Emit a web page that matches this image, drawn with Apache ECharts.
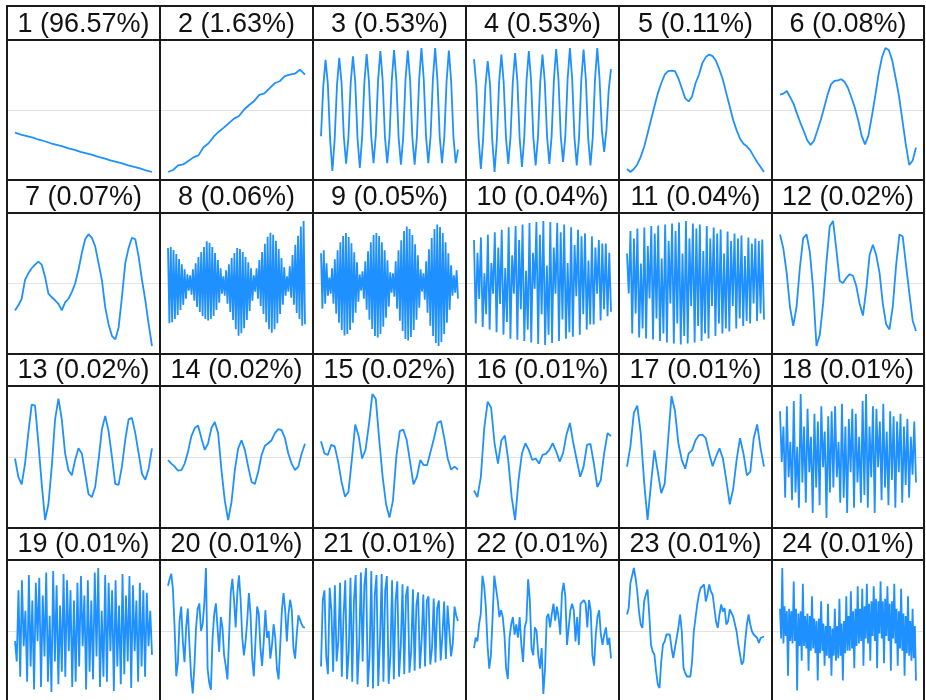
<!DOCTYPE html>
<html>
<head>
<meta charset="utf-8">
<script src="https://cdn.jsdelivr.net/npm/echarts@6/dist/echarts.min.js"></script>
<style>
  html, body { margin: 0; padding: 0; background: #fff; }
  #chart { width: 926px; height: 700px; }
</style>
</head>
<body>
<div id="chart"></div>
<script>
// Share of each eigenvector (% of total)
const shares = [96.57, 1.63, 0.53, 0.53, 0.11, 0.08, 0.07, 0.06, 0.05, 0.04, 0.04, 0.02,
                0.02, 0.02, 0.02, 0.01, 0.01, 0.01, 0.01, 0.01, 0.01, 0.01, 0.01, 0.01];

// Eigenvector values (x 1000)
const comp1 = [-45,-49,-52,-55,-59,-62,-66,-69,-72,-76,-79,-83,-86,-89,-93,-96,-100,-103,-106,-110,-113,-116,-120,-123];
const comp2 = [-123,-119,-110,-108,-101,-94,-90,-74,-66,-53,-43,-35,-26,-17,-12,1,10,18,30,33,43,53,57,67,70,72,80,70];
const comp3 = [-53,48,101,52,-60,-123,-58,50,105,55,-54,-108,-56,54,108,56,-58,-117,-56,56,113,58,-54,-107,-52,60,119,60,-54,-107,
               -55,60,121,60,-56,-110,-55,60,120,62,-55,-110,-54,62,125,62,-54,-107,-53,62,125,60,-54,-107,-55,58,120,58,-54,-107,-80];
const comp4 = [101,50,-55,-117,-58,48,97,52,-60,-123,-60,55,110,55,-55,-107,-53,56,113,57,-56,-113,-56,58,117,58,-55,-110,-55,55,
               110,56,-53,-107,-52,60,121,60,-52,-103,-52,61,123,61,-55,-110,-55,60,120,60,-55,-110,-55,61,123,61,-40,-83,-40,40,81];
const comp5 = [-117,-123,-117,-108,-93,-73,-47,-20,7,33,53,70,77,78,77,63,43,23,17,27,53,70,93,105,110,107,97,80,60,33,
               7,-20,-40,-57,-67,-72,-80,-92,-103,-113,-123];
const comp6 = [30,32,37,25,12,-7,-25,-41,-59,-68,-60,-40,-19,5,30,50,57,58,60,55,43,25,5,-20,-50,-67,-50,-13,27,70,
               103,121,117,97,63,27,-20,-67,-107,-99,-73];
const comp7 = [-53,-43,-30,7,20,30,37,43,37,13,-20,-27,-33,-40,-53,-37,-30,-17,0,27,60,87,97,90,73,40,7,-47,-80,-103,
               -110,-87,-27,40,70,90,87,53,7,-33,-80,-123];
const comp8 = [70,-78,72,-76,66,-70,58,-62,48,-52,38,-42,28,-30,18,-14,16,-22,28,-34,
               40,-46,52,-56,62,-64,72,-70,83,-73,80,-70,72,-64,60,-52,46,-38,30,-20,
               14,-24,26,-40,38,-56,50,-72,60,-90,70,-103,68,-98,62,-88,52,-72,42,-54,
               30,-34,16,-16,30,-30,46,-44,62,-60,78,-76,92,-90,100,-97,96,-90,84,-78,
               68,-60,50,-42,32,-24,14,-16,34,-28,56,-42,76,-58,94,-70,112,-83,123,-80];
const comp9 = [60,-50,66,-40,40,-24,12,-20,30,-40,48,-60,66,-78,82,-92,94,-103,100,-100,
               92,-92,80,-78,62,-58,42,-36,18,-14,24,-30,44,-52,64,-72,82,-90,96,-104,
               100,-107,94,-100,82,-86,66,-68,46,-46,22,-18,20,-26,44,-50,66,-74,86,-94,
               104,-110,113,-113,108,-106,96,-92,78,-72,56,-48,28,-16,20,-32,44,-58,68,-84,
               90,-104,108,-118,117,-124,112,-116,100,-100,82,-78,60,-52,36,-24,16,-18,26,-30];
const comp10 = [85,-78,60,-30,90,-85,20,-60,95,-90,40,-20,100,-95,70,-40,105,-100,30,-75,
                110,-108,55,-20,112,-110,85,-50,115,-112,25,-90,118,-115,60,-10,120,-118,95,-60,
                122,-120,35,-100,120,-116,70,-20,118,-112,100,-70,115,-108,40,-95,110,-104,75,-25,
                105,-100,92,-60,98,-90,45,-80,92,-80,70,-20,85,-72,78,-50,78,-64,60,-55];
const comp11 = [60,-20,105,-100,90,-60,110,-108,40,-90,112,-110,75,-30,115,-112,100,-70,116,-115,
                50,-100,118,-118,85,-40,120,-120,105,-80,122,-122,60,-105,125,-120,90,-45,120,-118,
                110,-85,118,-115,65,-100,115,-110,90,-45,112,-105,100,-80,108,-100,60,-90,104,-96,
                85,-45,100,-90,90,-70,96,-85,55,-75,92,-80,80,-40,90,-75,85,-60,88,-72];
const comp12 = [95,68,21,-45,-82,-45,31,88,95,61,-12,-121,-99,-39,41,111,121,65,5,1,
                11,18,15,-5,-39,-62,-12,55,75,55,21,-39,-79,-89,-45,35,95,91,35,-19,-72,-92];
const comp13 = [-3,-39,-54,-13,48,103,101,27,-53,-124,-93,-19,74,115,74,7,-26,-36,-6,17,
                7,-33,-73,-79,-59,-6,54,81,51,1,-53,-55,-19,34,74,77,47,7,-33,-45,-23,17];
const comp14 = [-6,-13,-19,-27,-26,-13,11,41,57,62,37,14,27,57,69,47,-26,-86,-124,-89,
                -26,17,33,14,-19,-49,-53,-29,4,22,27,33,47,55,53,37,7,-13,-26,-19,7,26];
const comp15 = [31,7,4,24,21,-9,-49,-78,-69,-6,64,41,-3,14,64,124,114,34,-39,-93,
                -119,-86,1,51,54,34,-9,-54,-39,-6,-16,-16,11,37,67,71,37,-3,-25,-19,-25];
const comp16 = [-66,-79,-39,57,109,97,27,-13,33,42,-6,-79,-124,-46,7,27,14,-6,-3,-13,
                4,6,14,27,11,-9,7,44,67,27,-6,-39,-19,24,26,-13,-59,-46,7,47,41];
const comp17 = [-19,21,87,101,47,-49,-124,-53,13,-29,-71,-53,34,120,91,27,-6,-23,7,13,
                33,43,44,37,7,-18,1,17,-3,-46,-93,-63,-6,37,7,-36,-29,37,64,17,-19];
const comp18 = [90,-10,60,-80,100,-40,30,-85,110,-70,20,-100,124,-50,60,-90,95,-30,40,-110,
                85,-60,70,-95,100,-20,50,-120,80,-70,90,-60,100,-40,30,-90,105,-80,60,-110,
                75,-30,95,-100,85,-50,40,-90,110,-75,124,-100,60,-40,100,-110,95,-20,70,-85,
                105,-60,50,-95,90,-45,80,-100,70,-30,85,-90,60,-55,75,-80,40,-35,70,-50];
const comp19 = [-20,-60,80,-90,100,-30,40,-100,110,-70,60,-115,95,-20,105,-110,70,-50,115,-100,
                30,-120,118,-60,90,-105,50,-80,112,-90,100,-40,80,-110,60,-100,95,-70,108,-30,
                70,-115,100,-80,60,-95,115,-50,124,-110,40,-90,110,-100,95,-40,80,-118,100,-70,
                50,-105,112,-85,70,-60,108,-112,90,-40,60,-100,95,-70,80,-90,75,-30,40,-47];
const comp20 = [87,100,110,80,7,-87,-60,20,47,-20,-60,7,43,-27,-87,-120,-67,7,43,53,
                0,13,53,121,-73,-100,-113,-13,33,53,7,-40,27,7,-47,-67,-93,-13,73,100,
                60,7,73,107,60,-13,-47,-20,20,73,33,-53,-87,-20,47,33,-33,-67,-20,40,
                -13,0,-53,-27,13,-13,-73,-93,-27,40,73,40,-20,33,60,40,-33,-53,-7,30,27,13,7,7];
const comp21 = [-70,60,80,-50,-85,85,40,-80,90,-60,-20,95,-90,30,100,-95,-40,105,-100,60,
                110,-105,-30,115,-60,90,124,-110,-50,118,-113,70,110,-108,-20,112,-100,80,108,-104,
                -50,100,-95,60,98,-90,-30,92,-85,70,88,-82,-40,82,-78,50,76,-74,-20,72,
                -70,60,68,-66,-35,64,-62,45,60,-58,-10,58,-55,50,52,-50,-25,48,30,20];
const comp22 = [-33,-13,-20,13,33,107,87,47,-27,-73,-47,27,107,107,60,27,40,27,-7,-73,
                -93,-13,13,27,-7,13,-13,27,-27,-60,7,20,100,60,-33,-47,7,0,-47,-73,
                -33,-122,-73,27,33,7,33,53,20,47,27,-7,73,93,67,-27,7,40,53,40,
                -20,27,-27,53,53,60,53,7,60,40,-47,-67,-7,27,40,-7,-27,-7,7,-27,-13,-53];
const comp23 = [33,46,96,99,126,106,79,39,13,6,59,73,83,33,-27,-41,-47,-81,-107,-114,
                -61,-27,-21,-7,-7,-7,-34,-54,-34,-14,6,33,-1,-74,-84,-91,-93,-91,-61,-1,
                26,53,73,86,83,93,59,73,93,79,73,46,19,6,33,53,39,46,13,19,
                43,36,29,26,-1,-27,-47,-67,-61,-21,13,33,13,-1,-7,-7,-14,-24,-14,-11,-11];
const comp24 = [45,-15,127,-25,50,-10,40,-90,45,-20,40,-25,100,-20,45,-120,35,-30,40,-60,
                95,-30,30,-35,35,-80,30,-40,70,-35,25,-45,20,-100,25,-45,60,-40,15,-70,
                10,-50,55,-55,10,-90,5,-50,45,-60,10,-55,65,-50,15,-100,20,-45,70,-40,
                30,-40,80,-35,40,-75,45,-30,90,-25,45,-20,85,-70,50,-15,95,-25,55,-60,
                60,-10,90,-20,65,-75,60,-5,100,-15,60,-65,65,-10,90,-20,55,-80,60,-15,
                95,-25,45,-70,40,-35,85,-40,35,-90,30,-45,70,-50,20,-60,45,-55,10,-100];

const components = [comp1, comp2, comp3, comp4, comp5, comp6, comp7, comp8, comp9, comp10, comp11, comp12,
                    comp13, comp14, comp15, comp16, comp17, comp18, comp19, comp20, comp21, comp22, comp23, comp24];

// Panel table layout (6 columns x 4 rows)
const COL_X = [7, 160, 313, 466, 619, 772, 924];
const ROW_Y = [6, 180, 354, 528, 702];
const TITLE_B = [40, 213, 386, 560];
const INSET = 8;
const LINE_COLOR = '#1e90ff';

const grids = [], xAxes = [], yAxes = [], series = [], graphics = [];
const symmetric = v => Math.max(Math.abs(v.min), Math.abs(v.max));

components.forEach((vals, i) => {
  const r = Math.floor(i / 6), c = i % 6;
  const x0 = COL_X[c], x1 = COL_X[c + 1];
  const tb = TITLE_B[r], yb = ROW_Y[r + 1];
  const w = x1 - x0 - 2;
  const n = vals.length;
  const pad = (n - 1) * (INSET - 1) / (w - 2 * (INSET - 1));
  grids.push({ left: x0 + 1, top: tb + INSET, width: w, height: yb - tb - 2 * INSET });
  xAxes.push({
    gridIndex: i, type: 'value', min: -pad, max: n - 1 + pad,
    axisLine: { show: true, onZero: true, lineStyle: { color: '#e2e2e2', width: 1 } },
    axisTick: { show: false }, axisLabel: { show: false }, splitLine: { show: false }
  });
  yAxes.push({
    gridIndex: i, type: 'value',
    min: v => -symmetric(v), max: v => symmetric(v),
    axisLine: { show: false }, axisTick: { show: false }, axisLabel: { show: false }, splitLine: { show: false }
  });
  series.push({
    type: 'line', xAxisIndex: i, yAxisIndex: i, silent: true,
    data: vals.map((v, k) => [k, v]),
    showSymbol: false,
    lineStyle: { color: LINE_COLOR, width: 1.8 }
  });
  graphics.push({
    type: 'text', z: 100,
    style: {
      text: `${i + 1} (${shares[i].toFixed(2)}%)`,
      x: (x0 + x1) / 2, y: tb - 15,
      align: 'center', verticalAlign: 'middle',
      font: '27px "Liberation Sans", Arial, sans-serif', fill: '#111'
    }
  });
});

// Cell borders
const border = { stroke: '#1a1a1a', lineWidth: 2 };
ROW_Y.forEach(y => graphics.push({ type: 'line', z: 100, shape: { x1: COL_X[0] - 1, y1: y, x2: COL_X[6] + 1, y2: y }, style: border }));
TITLE_B.forEach(y => graphics.push({ type: 'line', z: 100, shape: { x1: COL_X[0] - 1, y1: y, x2: COL_X[6] + 1, y2: y }, style: border }));
COL_X.forEach(x => graphics.push({ type: 'line', z: 100, shape: { x1: x, y1: ROW_Y[0] - 1, x2: x, y2: ROW_Y[4] + 1 }, style: border }));

const chart = echarts.init(document.getElementById('chart'), null, { renderer: 'canvas' });
chart.setOption({
  animation: false,
  backgroundColor: '#fff',
  grid: grids,
  xAxis: xAxes,
  yAxis: yAxes,
  series: series,
  graphic: graphics
});
</script>
</body>
</html>
